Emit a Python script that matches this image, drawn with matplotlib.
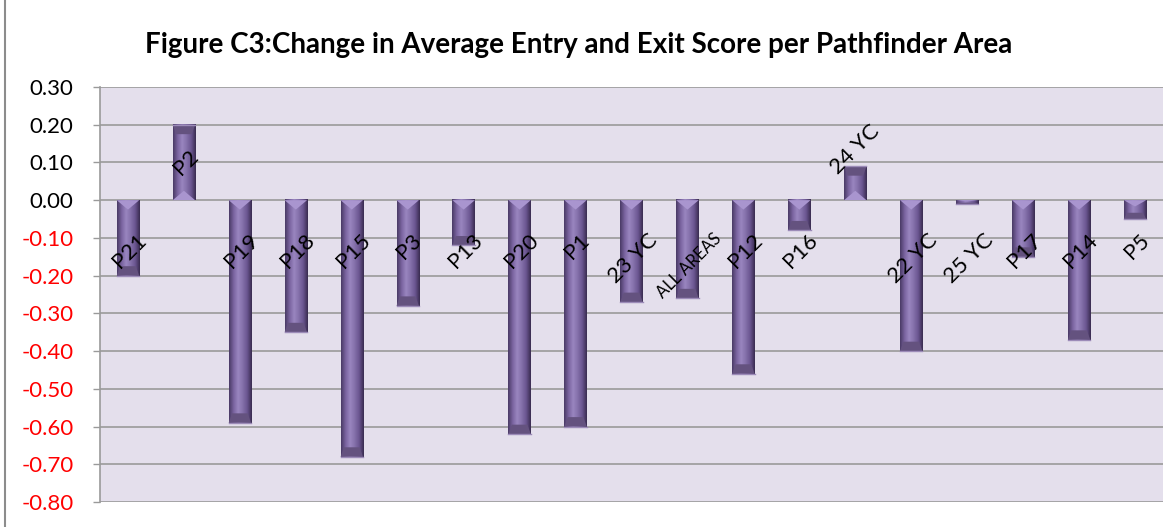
import matplotlib
matplotlib.use("Agg")
import matplotlib.pyplot as plt
import numpy as np
from matplotlib.colors import LinearSegmentedColormap
from matplotlib.patches import Rectangle

# data
areas = ["P21", "P2", "P19", "P18", "P15", "P3", "P13", "P20", "P1", "23 YC",
         "ALL AREAS", "P12", "P16", "24 YC", "22 YC", "25 YC", "P17", "P14", "P5"]
change = [-0.20, 0.20, -0.59, -0.35, -0.68, -0.28, -0.12, -0.62, -0.60, -0.27,
          -0.26, -0.46, -0.08, 0.09, -0.40, -0.01, -0.15, -0.37, -0.05]
yticks = [0.30, 0.20, 0.10, 0.00, -0.10, -0.20, -0.30, -0.40, -0.50, -0.60, -0.70, -0.80]

plt.rcParams['font.family'] = ['Lato', 'DejaVu Sans']

fig = plt.figure(figsize=(11.65, 5.27), dpi=100)
ax = fig.add_axes([100/1165, 1 - 502/527, 1063/1165, 415/527])
ax.set_facecolor('#E4DFEC')

# bevelled purple look via a horizontal gradient in each bar
shade = LinearSegmentedColormap.from_list(
    'bevel', ['#4A3A66', '#7A64A0', '#9A86C0', '#8470AA', '#6A5590', '#3A2C50'])
grad = np.linspace(0, 1, 64).reshape(1, -1)
w = 0.4
x = np.arange(len(areas))
for xi, v in zip(x, change):
    ax.imshow(grad, cmap=shade, aspect='auto', extent=(xi - w/2, xi + w/2, min(0, v), max(0, v)),
              origin='lower', zorder=3, interpolation='bilinear')
    # light bevel at the base and a darker one at the end
    cap = min(0.025, abs(v) / 3)
    s = np.sign(v) if v != 0 else 1
    ax.fill([xi - w/2, xi + w/2, xi], [0, 0, s * cap], color='#A995CF', zorder=4, lw=0)
    ax.fill([xi - w/2, xi + w/2, xi + w/2 - 0.06, xi - w/2 + 0.06],
            [v, v, v - s * cap, v - s * cap], color='#64527F', zorder=4, lw=0)
    ax.plot([xi - w/2, xi + w/2], [v, v], color='#9C8BB8', lw=1, zorder=5)

# category labels, rotated like the data labels in the original
for xi, v, name in zip(x, change, areas):
    fs = 12 if name == "ALL AREAS" else 16
    if v < 0:
        ax.text(xi + 0.03, -0.08, name, rotation=45, ha='center', va='top', fontsize=fs, zorder=6)
    elif v > 0.15:
        ax.text(xi + 0.03, v / 2, name, rotation=45, ha='center', va='center', fontsize=fs, zorder=6)
    else:
        ax.text(xi, v - 0.03, name, rotation=45, ha='center', va='bottom', fontsize=fs, zorder=6)

ax.set_xlim(-0.5, len(areas) - 0.5)
ax.set_ylim(-0.8, 0.3)
ax.set_yticks(yticks)
ax.set_yticklabels([f"{t:.2f}" for t in yticks], fontsize=16)
for lab, t in zip(ax.get_yticklabels(), yticks):
    lab.set_color('red' if t < 0 else 'black')
ax.set_xticks([])
ax.grid(axis='y', color='#9A9A9A', lw=1.2, zorder=1)
ax.set_axisbelow(True)
ax.tick_params(axis='y', length=5, width=1, color='#9A9A9A', pad=14)
for side in ['top', 'right', 'bottom']:
    ax.spines[side].set_visible(False)
ax.spines['left'].set_color('#9A9A9A')
ax.spines['left'].set_linewidth(1.2)

fig.text(0.497, 1 - 45/527, "Figure C3:Change in Average Entry and Exit Score per Pathfinder Area",
         ha='center', va='center', fontsize=20, fontweight='bold')

# outer chart frame
fig.patches.append(Rectangle((5/1165, -0.01), 1.0, 1.02, transform=fig.transFigure,
                             fill=False, edgecolor='#8C8C8C', lw=1.5))

fig.savefig("out.png", dpi=100)
